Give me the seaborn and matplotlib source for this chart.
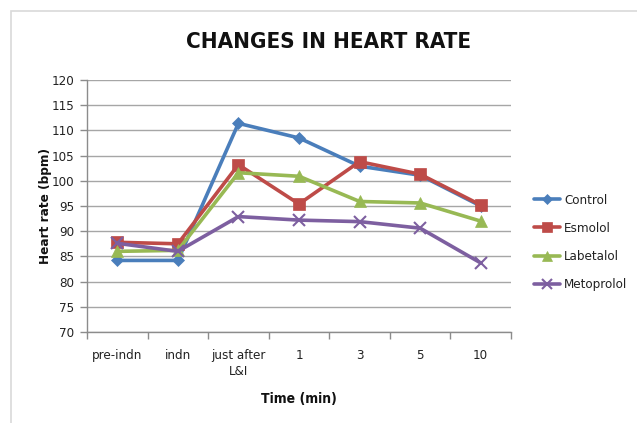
import matplotlib
matplotlib.use("Agg")
import matplotlib.pyplot as plt
from matplotlib.patches import Rectangle
from matplotlib.lines import Line2D
import pandas as pd
import seaborn as sns

# Time points and heart rate (bpm) per treatment group
time_points = ["pre-indn", "indn", "just after\nL&I", "1", "3", "5", "10"]
control = [84.2, 84.2, 111.4, 108.5, 102.9, 101.1, 95.0]
esmolol = [87.8, 87.5, 103.2, 95.4, 103.8, 101.3, 95.2]
labetalol = [86.0, 86.2, 101.6, 100.9, 95.9, 95.6, 92.0]
metoprolol = [87.6, 86.0, 92.9, 92.2, 91.9, 90.6, 83.7]

groups = ["Control", "Esmolol", "Labetalol", "Metoprolol"]
series = [control, esmolol, labetalol, metoprolol]
colors = ["#4A7EBB", "#BE4B48", "#98B954", "#7D5FA0"]
markers = ["D", "s", "^", "x"]
msizes = [6, 8, 8, 9]

df = pd.DataFrame(
    [(g, i, v) for g, vals in zip(groups, series) for i, v in enumerate(vals)],
    columns=["group", "pos", "hr"],
)

sns.set_theme(style="white")
plt.rcParams["font.family"] = ["DejaVu Sans"]
plt.rcParams["font.stretch"] = "condensed"

fig = plt.figure(figsize=(6.37, 4.23), dpi=100)
ax = fig.add_axes([87 / 637, 91 / 423, 424 / 637, 252 / 423])

# chart frame
fig.patches.append(Rectangle((11 / 637, -0.1), 1.2, (423 - 11) / 423 + 0.1,
                             transform=fig.transFigure, fill=False,
                             edgecolor="#d9d9d9", linewidth=1.2))

for g, c, m, ms in zip(groups, colors, markers, msizes):
    sub = df[df["group"] == g]
    sns.lineplot(data=sub, x="pos", y="hr", ax=ax, color=c, linewidth=2.6,
                 marker=m, markersize=ms, markeredgecolor=c,
                 markeredgewidth=1.5 if m == "x" else 0.5, legend=False)

ax.set_xlim(-0.5, len(time_points) - 0.5)
ax.set_ylim(70, 120)
ax.set_yticks(range(70, 121, 5))
ax.set_xticks(range(len(time_points)))
ax.set_xticklabels(time_points, linespacing=1.3)
ax.set_xticks([i - 0.5 for i in range(len(time_points) + 1)], minor=True)

ax.yaxis.grid(True, color="#a6a6a6", linewidth=1.0)
ax.set_axisbelow(True)
for s in ["top", "right"]:
    ax.spines[s].set_visible(False)
for s in ["left", "bottom"]:
    ax.spines[s].set_color("#8c8c8c")
    ax.spines[s].set_linewidth(1.0)

ax.tick_params(axis="y", which="major", length=5, color="#8c8c8c", width=1,
               direction="out", left=True, labelsize=9.5, colors="#8c8c8c",
               labelcolor="#222222", pad=4)
ax.tick_params(axis="x", which="major", length=0, labelsize=9.5,
               labelcolor="#222222", pad=12)
ax.tick_params(axis="x", which="minor", length=5, color="#8c8c8c", width=1,
               direction="out", bottom=True)

ax.set_xlabel("Time (min)", fontsize=10, fontweight="bold", labelpad=10,
              color="#111111")
ax.set_ylabel("Heart rate (bpm)", fontsize=9.7, fontweight="bold", labelpad=0,
              color="#111111")

fig.text(329 / 637, 1 - 42 / 423, "CHANGES IN HEART RATE", ha="center",
         va="center", fontsize=16, fontweight="bold", color="#111111")

handles = [Line2D([0], [0], color=c, marker=m, markersize=ms * 0.85,
                  markeredgecolor=c, linewidth=2.6,
                  markeredgewidth=1.5 if m == "x" else 0.5)
           for c, m, ms in zip(colors, markers, msizes)]
fig.legend(handles, groups, loc="upper left",
           bbox_to_anchor=(522 / 637, 1 - 182 / 423), frameon=False,
           fontsize=9.5, handlelength=2.0, handletextpad=0.3,
           labelspacing=1.15, labelcolor="#222222")

fig.savefig("out.png", dpi=100)
